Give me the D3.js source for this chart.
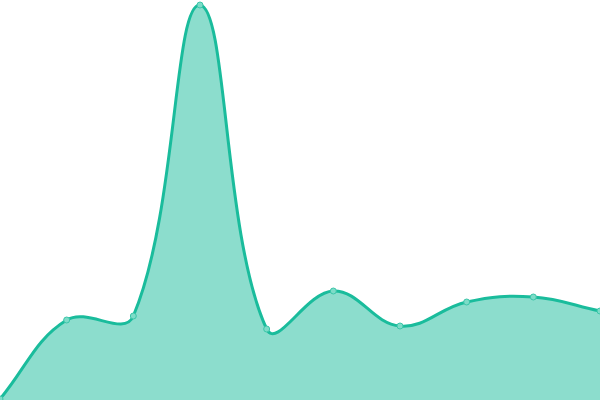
<!DOCTYPE html>
<html>
<head>
<meta charset="utf-8">
<script src="https://cdn.jsdelivr.net/npm/d3@7"></script>
<style>
  html, body { margin: 0; padding: 0; background: #fff; overflow: hidden; }
</style>
</head>
<body>
<div id="chart"></div>
<script>
// --- Daten ---
const labels = ["1", "2", "3", "4", "5", "6", "7", "8", "9", "10"];
const values = [1, 80, 84, 395, 71, 109, 74, 98, 103, 89];

const width = 600;
const height = 400;

const svg = d3.select("#chart")
    .append("svg")
    .attr("width", width)
    .attr("height", height);

// x: Punkte über die volle Breite verteilt
const x = d3.scalePoint()
    .domain(labels)
    .range([0, width]);

// y: 0..400
const y = d3.scaleLinear()
    .domain([0, 400])
    .range([height, 0]);

const data = labels.map((l, i) => ({ label: l, value: values[i] }));

// eigene Kurve: abstandsgewichteter Spline (Spannung 0.4), Kontrollpunkte im Zeichenbereich begrenzt
function splineCurve(tension) {
    function Curve(context) { this._context = context; }
    Curve.prototype = {
        areaStart() { this._line = 0; },
        areaEnd() { this._line = NaN; },
        lineStart() { this._pts = []; },
        point(px, py) { this._pts.push([+px, +py]); },
        lineEnd() {
            const p = this._pts, n = p.length, ctx = this._context;
            if (n) {
                const clampX = v => Math.max(0, Math.min(width, v));
                const clampY = v => Math.max(0, Math.min(height, v));
                const cp = p.map((cur, i) => {
                    const prev = p[i - 1] || cur, next = p[i + 1] || cur;
                    const d01 = Math.hypot(cur[0] - prev[0], cur[1] - prev[1]);
                    const d12 = Math.hypot(next[0] - cur[0], next[1] - cur[1]);
                    let s01 = d01 / (d01 + d12), s12 = d12 / (d01 + d12);
                    if (isNaN(s01)) s01 = 0;
                    if (isNaN(s12)) s12 = 0;
                    const fa = tension * s01, fb = tension * s12;
                    const dx = next[0] - prev[0], dy = next[1] - prev[1];
                    return {
                        prev: [clampX(cur[0] - fa * dx), clampY(cur[1] - fa * dy)],
                        next: [clampX(cur[0] + fb * dx), clampY(cur[1] + fb * dy)]
                    };
                });
                if (this._line) ctx.lineTo(p[0][0], p[0][1]);
                else ctx.moveTo(p[0][0], p[0][1]);
                for (let i = 1; i < n; i++) {
                    ctx.bezierCurveTo(cp[i - 1].next[0], cp[i - 1].next[1],
                        cp[i].prev[0], cp[i].prev[1], p[i][0], p[i][1]);
                }
            }
            if (this._line || (this._line !== 0 && n === 1)) ctx.closePath();
            this._line = 1 - this._line;
        }
    };
    return context => new Curve(context);
}
const curve = splineCurve(0.4);

// Fläche
const area = d3.area()
    .x(d => x(d.label))
    .y0(y(0))
    .y1(d => y(d.value))
    .curve(curve);

svg.append("path")
    .datum(data)
    .attr("fill", "#1abc9c")
    .attr("fill-opacity", 0.5)
    .attr("d", area);

// Linie
const line = d3.line()
    .x(d => x(d.label))
    .y(d => y(d.value))
    .curve(curve);

svg.append("path")
    .datum(data)
    .attr("fill", "none")
    .attr("stroke", "#1abc9c")
    .attr("stroke-width", 3)
    .attr("d", line);

// Punkte
svg.selectAll("circle")
    .data(data)
    .enter()
    .append("circle")
    .attr("cx", d => x(d.label))
    .attr("cy", d => y(d.value))
    .attr("r", 3)
    .attr("fill", "#7ddcc8")
    .attr("stroke", "#3cc6a9")
    .attr("stroke-width", 1);
</script>
</body>
</html>
